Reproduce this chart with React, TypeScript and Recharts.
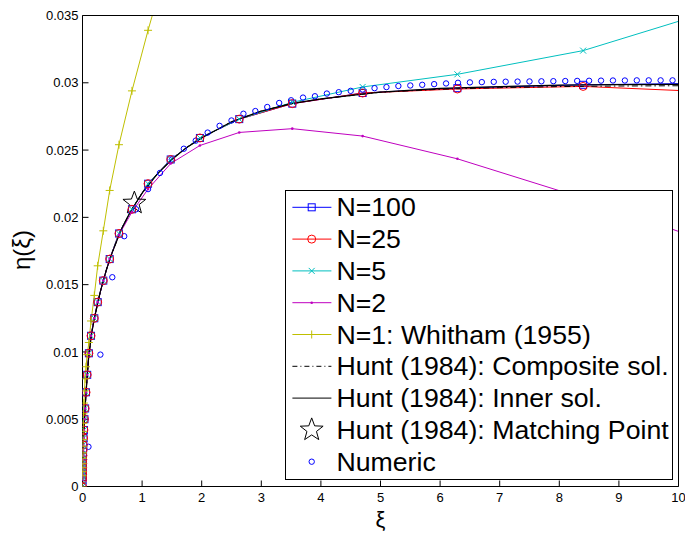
import React from 'react';
import { ComposedChart, Line, Scatter, XAxis, YAxis, Legend } from 'recharts';

const FONT = '"Liberation Sans", Arial, Helvetica, sans-serif';

// ---- data ----
const gridX = [0, 0.0005, 0.0009, 0.0014, 0.002, 0.003, 0.0042, 0.0057, 0.0077, 0.01, 0.0135, 0.018, 0.024, 0.033, 0.044, 0.059, 0.079, 0.107, 0.143, 0.198, 0.255, 0.349, 0.456, 0.612, 0.83, 1.1, 1.48, 1.97, 2.63, 3.52, 4.7, 6.29, 8.4, 11.2];
const n100 = [0, 0.0005, 0.0007, 0.0009, 0.0011, 0.0014, 0.0017, 0.002, 0.0023, 0.0027, 0.0031, 0.0036, 0.0042, 0.005, 0.0058, 0.007, 0.0083, 0.0099, 0.0112, 0.0125, 0.0137, 0.0153, 0.0169, 0.0188, 0.0206, 0.0225, 0.0243, 0.0259, 0.0273, 0.02845, 0.02924, 0.0296, 0.02985, 0.03];
const n25 = [0, 0.0005, 0.0007, 0.0009, 0.0011, 0.0014, 0.0017, 0.002, 0.0023, 0.0027, 0.0031, 0.0036, 0.0042, 0.005, 0.0058, 0.007, 0.0083, 0.0099, 0.0112, 0.0125, 0.0137, 0.0153, 0.0169, 0.0188, 0.0206, 0.0225, 0.0243, 0.0259, 0.0273, 0.02845, 0.02924, 0.02954, 0.02973, 0.0292];
const n5 = [0, 0.0005, 0.0007, 0.0009, 0.0011, 0.0014, 0.0017, 0.002, 0.0023, 0.0027, 0.0031, 0.0036, 0.0042, 0.005, 0.0058, 0.007, 0.0083, 0.0099, 0.0112, 0.0125, 0.0137, 0.0153, 0.0169, 0.0188, 0.0206, 0.0225, 0.0243, 0.0259, 0.0273, 0.02855, 0.02969, 0.03063, 0.03239, 0.0362];
const n2 = [0, 0.0005, 0.0007, 0.0009, 0.0011, 0.0014, 0.0017, 0.002, 0.0023, 0.0027, 0.0031, 0.0036, 0.0042, 0.005, 0.0058, 0.007, 0.0083, 0.0099, 0.0112, 0.0125, 0.0137, 0.0153, 0.0169, 0.0187, 0.0204, 0.0221, 0.024, 0.02534, 0.02631, 0.02659, 0.02604, 0.02435, 0.02143, 0.0171];
const n1 = [0, 0.0008, 0.0011, 0.0014, 0.0017, 0.0021, 0.0025, 0.003, 0.0035, 0.0041, 0.0047, 0.0054, 0.0062, 0.0071, 0.008, 0.0089, 0.0098, 0.0107, 0.0123, 0.0142, 0.0164, 0.019, 0.022, 0.0254, 0.0294, 0.0339, 0.0398];

const huntX = [0, 0.002, 0.005, 0.01, 0.02, 0.035, 0.05, 0.075, 0.1, 0.15, 0.2, 0.3, 0.4, 0.5, 0.65, 0.8, 1.0, 1.25, 1.5, 1.75, 2.0, 2.5, 3.0, 3.5, 4.0, 5.0, 6.0, 7.0, 8.0, 9.0, 10.0];
const huntInner = [0, 0.0011, 0.0018, 0.0027, 0.0039, 0.0052, 0.0063, 0.0079, 0.0094, 0.0113, 0.0125, 0.0145, 0.0161, 0.0174, 0.0191, 0.0204, 0.0218, 0.0232, 0.0243, 0.0252, 0.0259, 0.0271, 0.0279, 0.02845, 0.0288, 0.0293, 0.02958, 0.02972, 0.02982, 0.02986, 0.02988];
const huntComposite = [0, 0.0011, 0.0018, 0.0027, 0.0039, 0.0052, 0.0063, 0.0079, 0.0094, 0.0113, 0.0125, 0.0145, 0.0161, 0.0174, 0.0191, 0.0204, 0.0218, 0.0232, 0.0243, 0.0252, 0.0259, 0.0271, 0.0279, 0.02845, 0.0288, 0.0293, 0.02952, 0.02964, 0.02972, 0.02976, 0.02978];

const matchX = [0.87];
const matchY = [0.02106];

const numX = [0.1, 0.3, 0.5, 0.7, 0.9, 1.1, 1.3, 1.5, 1.7, 1.9, 2.1, 2.3, 2.5, 2.7, 2.9, 3.1, 3.3, 3.5, 3.7, 3.9, 4.1, 4.3, 4.5, 4.7, 4.9, 5.1, 5.3, 5.5, 5.7, 5.9, 6.1, 6.3, 6.5, 6.7, 6.9, 7.1, 7.3, 7.5, 7.7, 7.9, 8.1, 8.3, 8.5, 8.7, 8.9, 9.1, 9.3, 9.5, 9.7, 9.9];
const numY = [0.00295, 0.0098, 0.01555, 0.0186, 0.0206, 0.0221, 0.0233, 0.0243, 0.0251, 0.0257, 0.0263, 0.0268, 0.0272, 0.0277, 0.0279, 0.0282, 0.0285, 0.0287, 0.0289, 0.029, 0.0292, 0.0293, 0.0294, 0.0295, 0.0296, 0.02968, 0.02976, 0.0298, 0.02985, 0.0299, 0.02995, 0.03, 0.03003, 0.03005, 0.03007, 0.03008, 0.03009, 0.0301, 0.03011, 0.03012, 0.03013, 0.03014, 0.03015, 0.03016, 0.03017, 0.03017, 0.03018, 0.03018, 0.03018, 0.03018];

const xTicks = [0, 1, 2, 3, 4, 5, 6, 7, 8, 9, 10];
const yTicks = [0, 0.005, 0.01, 0.015, 0.02, 0.025, 0.03, 0.035];
const yTickLabels = ['0', '0.005', '0.01', '0.015', '0.02', '0.025', '0.03', '0.035'];

const legendLabels = [
  'N=100',
  'N=25',
  'N=5',
  'N=2',
  'N=1: Whitham (1955)',
  'Hunt (1984): Composite sol.',
  'Hunt (1984): Inner sol.',
  'Hunt (1984): Matching Point',
  'Numeric',
];

const BLUE = '#0000ff';
const RED = '#ff0000';
const CYAN = '#00bfbf';
const MAGENTA = '#bf00bf';
const YELLOW = '#bfbf00';

const toRows = (xs: number[], ys: number[]) => ys.map((y, i) => ({ x: xs[i], y }));

const d100 = toRows(gridX, n100);
const d25 = toRows(gridX, n25);
const d5 = toRows(gridX, n5);
const d2 = toRows(gridX, n2);
const d1 = toRows(gridX, n1);
const dInner = toRows(huntX, huntInner);
const dComp = toRows(huntX, huntComposite);
const dMatch = toRows(matchX, matchY);
const dNum = toRows(numX, numY);

// ---- marker shapes ----
const ok = (p: any) => p && typeof p.cx === 'number' && typeof p.cy === 'number' && !isNaN(p.cx) && !isNaN(p.cy);

const SquareM = ({ cx, cy, c = BLUE }: any) => (
  <rect x={cx - 3.5} y={cy - 3.5} width={7} height={7} fill="none" stroke={c} strokeWidth={1} />
);
const CircleM = ({ cx, cy, c = RED, r = 4 }: any) => (
  <circle cx={cx} cy={cy} r={r} fill="none" stroke={c} strokeWidth={1} />
);
const CrossM = ({ cx, cy, c = CYAN }: any) => (
  <path d={`M${cx - 3},${cy - 3}L${cx + 3},${cy + 3}M${cx - 3},${cy + 3}L${cx + 3},${cy - 3}`} stroke={c} strokeWidth={1} fill="none" />
);
const DotM = ({ cx, cy, c = MAGENTA }: any) => <circle cx={cx} cy={cy} r={1.3} fill={c} stroke="none" />;
const PlusM = ({ cx, cy, c = YELLOW }: any) => (
  <path d={`M${cx - 4},${cy}L${cx + 4},${cy}M${cx},${cy - 4}L${cx},${cy + 4}`} stroke={c} strokeWidth={1} fill="none" />
);
const starPoints = (cx: number, cy: number, R: number, r: number) => {
  const pts: string[] = [];
  for (let i = 0; i < 10; i++) {
    const a = (-90 + 36 * i) * Math.PI / 180;
    const rr = i % 2 === 0 ? R : r;
    pts.push(`${cx + rr * Math.cos(a)},${cy + rr * Math.sin(a)}`);
  }
  return pts.join(' ');
};
const StarM = ({ cx, cy }: any) => (
  <polygon points={starPoints(cx, cy, 12, 5)} fill="none" stroke="#000" strokeWidth={1} />
);

const mkDot = (Comp: any) => (p: any) =>
  ok(p) ? <Comp key={`d${p.index}`} cx={p.cx} cy={p.cy} /> : <g key={`d${p.index}`} />;

// ---- axis labels ----
const XTitle = (props: any) => {
  const vb = props.viewBox || { x: 82.5, y: 486.5, width: 596, height: 30 };
  return (
    <text x={vb.x + vb.width / 2} y={vb.y + 32.5} textAnchor="middle" dominantBaseline="central" fontSize={22} fontFamily={FONT} fill="#000">
      ξ
    </text>
  );
};
const YTitle = (props: any) => {
  const vb = props.viewBox || { x: 12.5, y: 15.5, width: 70, height: 471 };
  const x = vb.x + 9;
  const y = vb.y + vb.height / 2 - 1;
  return (
    <text x={x} y={y} transform={`rotate(-90, ${x}, ${y})`} textAnchor="middle" dominantBaseline="central" fontSize={24} fontFamily={FONT} fill="#000">
      η(ξ)
    </text>
  );
};

// ---- legend ----
const rowC = (i: number) => 16.3 + 31.8 * i;
const LegendBox = () => (
  <div
    style={{
      width: 388,
      height: 290,
      border: '1px solid #000',
      background: '#fff',
      boxSizing: 'border-box',
      position: 'relative',
      fontFamily: FONT,
      fontSize: 26.7,
      color: '#000',
    }}
  >
    <svg width={50} height={288} style={{ position: 'absolute', left: 0, top: 0 }}>
      <line x1={6.4} x2={45.4} y1={rowC(0)} y2={rowC(0)} stroke={BLUE} />
      <SquareM cx={25.7} cy={rowC(0)} />
      <line x1={6.4} x2={45.4} y1={rowC(1)} y2={rowC(1)} stroke={RED} />
      <CircleM cx={25.7} cy={rowC(1)} />
      <line x1={6.4} x2={45.4} y1={rowC(2)} y2={rowC(2)} stroke={CYAN} />
      <CrossM cx={25.7} cy={rowC(2)} />
      <line x1={6.4} x2={45.4} y1={rowC(3)} y2={rowC(3)} stroke={MAGENTA} />
      <DotM cx={25.7} cy={rowC(3)} />
      <line x1={6.4} x2={45.4} y1={rowC(4)} y2={rowC(4)} stroke={YELLOW} />
      <PlusM cx={25.7} cy={rowC(4)} />
      <line x1={6.4} x2={45.4} y1={rowC(5)} y2={rowC(5)} stroke="#000" strokeDasharray="5,3,1,3" />
      <line x1={6.4} x2={45.4} y1={rowC(6)} y2={rowC(6)} stroke="#000" />
      <StarM cx={25.7} cy={rowC(7)} />
      <CircleM cx={25.7} cy={rowC(8)} c={BLUE} r={2.7} />
    </svg>
    {legendLabels.map((lab, i) => (
      <span
        key={lab}
        style={{ position: 'absolute', left: 50.4, top: rowC(i) - 16, height: 32, lineHeight: '32px', whiteSpace: 'nowrap' }}
      >
        {lab}
      </span>
    ))}
  </div>
);

const tickStyle = { fill: '#000', fontSize: 13, fontFamily: FONT };

export default function App() {
  return (
    <div style={{ position: 'absolute', left: 0, top: 0, width: 685, height: 533, background: '#fff' }}>
      <ComposedChart width={685} height={533} margin={{ top: 5.5, right: 1.5, bottom: 16.5, left: 12.5 }}>
        <XAxis
          xAxisId="b"
          type="number"
          dataKey="x"
          domain={[0, 10]}
          allowDataOverflow
          ticks={xTicks}
          interval={0}
          tickSize={-6}
          tickMargin={12.5}
          height={30}
          axisLine={{ stroke: '#000' }}
          tickLine={{ stroke: '#000' }}
          tick={tickStyle}
          label={{ content: XTitle }}
        />
        <XAxis
          xAxisId="t"
          orientation="top"
          type="number"
          dataKey="x"
          domain={[0, 10]}
          allowDataOverflow
          ticks={xTicks}
          interval={0}
          tickSize={-6}
          height={10}
          axisLine={{ stroke: '#000' }}
          tickLine={{ stroke: '#000' }}
          tick={false}
        />
        <YAxis
          yAxisId="l"
          type="number"
          dataKey="y"
          domain={[0, 0.035]}
          allowDataOverflow
          ticks={yTicks}
          interval={0}
          tickSize={-6}
          tickMargin={10}
          width={70}
          axisLine={{ stroke: '#000' }}
          tickLine={{ stroke: '#000' }}
          tick={tickStyle}
          tickFormatter={(v: number) => yTickLabels[yTicks.indexOf(v)] ?? String(v)}
          label={{ content: YTitle }}
        />
        <YAxis
          yAxisId="r"
          orientation="right"
          type="number"
          dataKey="y"
          domain={[0, 0.035]}
          allowDataOverflow
          ticks={yTicks}
          interval={0}
          tickSize={-6}
          width={5}
          axisLine={{ stroke: '#000' }}
          tickLine={{ stroke: '#000' }}
          tick={false}
        />
        <Legend layout="vertical" align="center" verticalAlign="middle" content={LegendBox} wrapperStyle={{ position: 'absolute', left: 285, top: 190, width: 388, height: 290 }} />

        <Line xAxisId="b" yAxisId="l" data={d100} dataKey="y" stroke={BLUE} strokeWidth={1} dot={mkDot(SquareM)} isAnimationActive={false} legendType="none" />
        <Line xAxisId="b" yAxisId="l" data={d25} dataKey="y" stroke={RED} strokeWidth={1} dot={mkDot(CircleM)} isAnimationActive={false} legendType="none" />
        <Line xAxisId="b" yAxisId="l" data={d5} dataKey="y" stroke={CYAN} strokeWidth={1} dot={mkDot(CrossM)} isAnimationActive={false} legendType="none" />
        <Line xAxisId="b" yAxisId="l" data={d2} dataKey="y" stroke={MAGENTA} strokeWidth={1} dot={mkDot(DotM)} isAnimationActive={false} legendType="none" />
        <Line xAxisId="b" yAxisId="l" data={d1} dataKey="y" stroke={YELLOW} strokeWidth={1} dot={mkDot(PlusM)} isAnimationActive={false} legendType="none" />
        <Line xAxisId="b" yAxisId="l" data={dComp} dataKey="y" stroke="#000" strokeWidth={1} strokeDasharray="6,3,1.5,3" dot={false} isAnimationActive={false} legendType="none" />
        <Line xAxisId="b" yAxisId="l" data={dInner} dataKey="y" stroke="#000" strokeWidth={1.2} dot={false} isAnimationActive={false} legendType="none" />
        <Scatter xAxisId="b" yAxisId="l" data={dMatch} dataKey="y" shape={(p: any) => (ok(p) ? <StarM cx={p.cx} cy={p.cy} /> : <g />)} isAnimationActive={false} legendType="none" />
        <Scatter xAxisId="b" yAxisId="l" data={dNum} dataKey="y" shape={(p: any) => (ok(p) ? <CircleM cx={p.cx} cy={p.cy} c={BLUE} r={2.7} /> : <g />)} isAnimationActive={false} legendType="none" />
      </ComposedChart>
    </div>
  );
}
